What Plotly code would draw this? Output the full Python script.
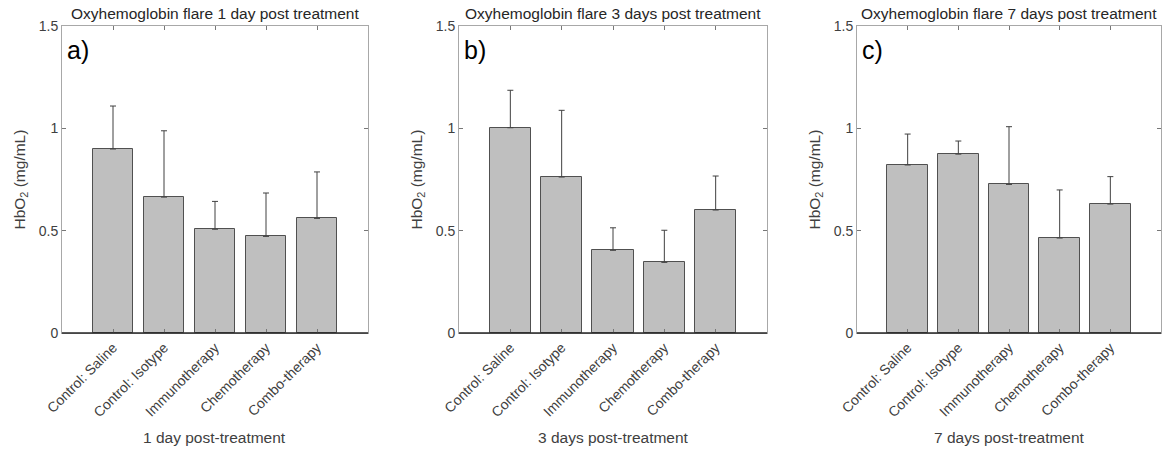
import plotly.graph_objects as go

# data
groups = ["Control: Saline", "Control: Isotype", "Immunotherapy", "Chemotherapy", "Combo-therapy"]
xpos = [1, 2, 3, 4, 5]

day1_mean = [0.899, 0.664, 0.507, 0.472, 0.560]
day1_err = [0.210, 0.324, 0.136, 0.212, 0.227]
day3_mean = [1.003, 0.762, 0.404, 0.345, 0.601]
day3_err = [0.183, 0.326, 0.110, 0.157, 0.166]
day7_mean = [0.821, 0.874, 0.726, 0.464, 0.630]
day7_err = [0.151, 0.064, 0.282, 0.235, 0.134]

titles = ["Oxyhemoglobin flare 1 day post treatment",
          "Oxyhemoglobin flare 3 days post treatment",
          "Oxyhemoglobin flare 7 days post treatment"]
xlabels = ["1 day post-treatment", "3 days post-treatment", "7 days post-treatment"]
panel_tags = ["a)", "b)", "c)"]
yticks = [0, 0.5, 1, 1.5]
ytick_text = ["0", "0.5", "1", "1.5"]

W, H = 1169, 451
# axes boxes in pixels (left, right), shared top/bottom
boxes = [(62, 368), (459, 767), (857, 1161)]
top_px, bot_px = 26, 333

FONT = "Arial, Liberation Sans, sans-serif"
DARK = "#262626"
LIGHT = "#a8a8a8"

fig = go.Figure()
series = [(day1_mean, day1_err), (day3_mean, day3_err), (day7_mean, day7_err)]
ydom = [1 - bot_px / H, 1 - top_px / H]

annotations = []
shapes = []
for i, (means, errs) in enumerate(series):
    n = "" if i == 0 else str(i + 1)
    fig.add_trace(go.Bar(
        x=xpos, y=means, width=0.8,
        marker=dict(color="#bfbfbf", line=dict(color="#505050", width=1)),
        error_y=dict(type="data", symmetric=False, array=errs,
                     arrayminus=[0] * len(errs),
                     color="#404040", thickness=1, width=3),
        xaxis="x" + n, yaxis="y" + n, showlegend=False,
    ))
    l, r = boxes[i]
    xdom = [l / W, r / W]
    fig.update_layout(**{
        "xaxis" + n: dict(
            domain=xdom, range=[0, 6], tickvals=xpos, ticktext=groups,
            tickangle=-45, ticks="inside", ticklen=4, tickcolor="#777",
            showline=True, linecolor=LIGHT, mirror="ticks", showgrid=False,
            zeroline=False, anchor="y" + n, automargin=False,
            tickfont=dict(size=14, color="#404040", family=FONT),
        ),
        "yaxis" + n: dict(
            domain=ydom, range=[0, 1.5], tickvals=yticks, ticktext=ytick_text,
            ticks="inside", ticklen=4, tickcolor="#777",
            showline=True, linecolor=LIGHT, mirror="ticks", showgrid=False,
            zeroline=False, anchor="x" + n, automargin=False,
            tickfont=dict(size=14, color="#404040", family=FONT),
        ),
    })
    # dark bottom axis line like the MATLAB export
    shapes.append(dict(type="line", xref="x" + n + " domain", yref="y" + n + " domain",
                       x0=0, x1=1, y0=0, y1=0, line=dict(color=DARK, width=1.3),
                       layer="above"))
    cx = (l + r) / 2 / W
    annotations.append(dict(text=titles[i], x=cx, y=1 - 14 / H, xref="paper", yref="paper",
                            showarrow=False, xanchor="center", yanchor="middle",
                            font=dict(size=15.5, color=DARK, family=FONT)))
    annotations.append(dict(text=xlabels[i], x=cx, y=1 - 437 / H, xref="paper", yref="paper",
                            showarrow=False, xanchor="center", yanchor="middle",
                            font=dict(size=15.5, color="#404040", family=FONT)))
    annotations.append(dict(text="HbO<sub>2</sub> (mg/mL)", x=(l - 42) / W,
                            y=(ydom[0] + ydom[1]) / 2, xref="paper", yref="paper",
                            showarrow=False, textangle=-90, xanchor="center", yanchor="middle",
                            font=dict(size=15.5, color="#404040", family=FONT)))
    annotations.append(dict(text=panel_tags[i], x=(l + 3) / W, y=1 - 50 / H,
                            xref="paper", yref="paper", showarrow=False,
                            xanchor="left", yanchor="middle",
                            font=dict(size=25, color="black", family=FONT)))

fig.update_layout(
    width=W, height=H, margin=dict(l=0, r=0, t=0, b=0, autoexpand=False),
    paper_bgcolor="white", plot_bgcolor="white",
    annotations=annotations, shapes=shapes, bargap=0,
    font=dict(family=FONT),
)

# drop the default page margin so the figure fills the window exactly
fig.write_html("out.html", config={"displayModeBar": False},
               post_script="document.body.style.margin='0';")
